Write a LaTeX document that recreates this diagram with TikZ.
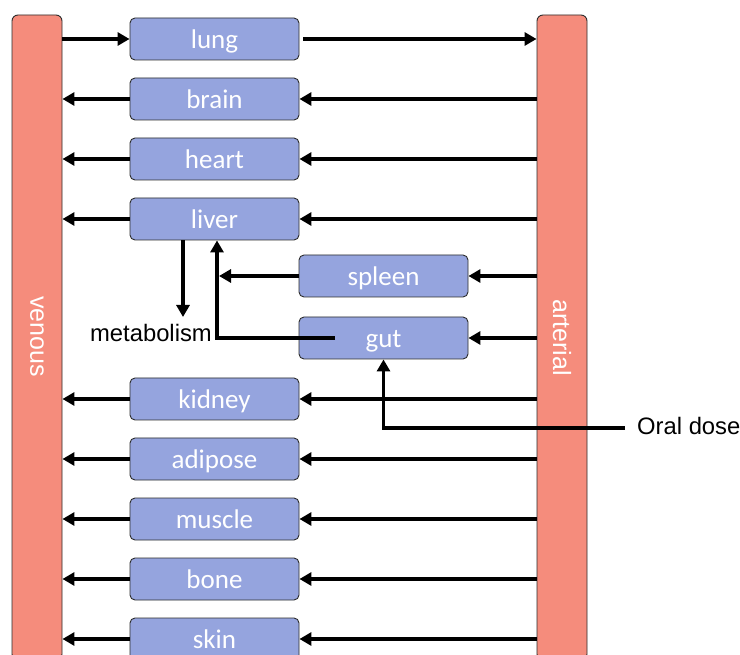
\documentclass[tikz,border=0pt]{standalone}
\usepackage{fontspec}
\newfontfamily\carlito{Carlito}
\newfontfamily\lsans{Liberation Sans}
\usetikzlibrary{arrows.meta}
\definecolor{boxblue}{RGB}{149,164,222}
\definecolor{barsalmon}{RGB}{245,140,124}
\definecolor{edgegray}{RGB}{45,45,45}
\tikzset{
  organ/.style={rectangle, rounded corners=5pt, draw=edgegray, line width=0.9pt,
    fill=boxblue, minimum width=169pt, minimum height=42pt, inner sep=0pt,
    text=white, font=\carlito\fontsize{27}{27}\selectfont,
    text height=24pt, text depth=5pt},
  bar/.style={rectangle, rounded corners=6pt, draw=edgegray, line width=0.9pt,
    fill=barsalmon, minimum width=50pt, minimum height=645pt, inner sep=0pt},
  barlabel/.style={text=white, font=\lsans\fontsize{25}{25}\selectfont, inner sep=0pt, rotate=-90},
  lbl/.style={text=black, font=\lsans\fontsize{23.8}{23.8}\selectfont, inner sep=0pt},
  arr/.style={line width=3.7pt, -{Triangle[length=12pt,width=13pt]}},
  ln/.style={line width=3.7pt}
}
\begin{document}
\begin{tikzpicture}[x=1pt,y=-1pt]
\useasboundingbox (0,0) rectangle (740,655);
\clip (0,0) rectangle (740,655);
\fill[white] (0,0) rectangle (740,655);
% bars
\node[bar] (ven) at (37,337.5) {};
\node[bar] (art) at (562,337.5) {};
\node[barlabel] (venlbl) at (37,336.5) {venous};
\node[barlabel] (artlbl) at (562,337.5) {arterial};
% organs
\node[organ] (lung)    at (214.5,39)  {lung};
\node[organ] (brain)   at (214.5,99)  {brain};
\node[organ] (heart)   at (214.5,159) {heart};
\node[organ] (liver)   at (214.5,219) {liver};
\node[organ] (spleen)  at (383.5,276) {spleen};
\node[organ] (gut)     at (383.5,338) {gut};
\node[organ] (kidney)  at (214.5,399) {kidney};
\node[organ] (adipose) at (214.5,459) {adipose};
\node[organ] (muscle)  at (214.5,519) {muscle};
\node[organ] (bone)    at (214.5,579) {bone};
\node[organ] (skin)    at (214.5,639) {skin};
% labels
\node[lbl, anchor=base east] (metab) at (212,341.5) {metabolism};
\node[lbl, anchor=base west] (oral) at (637,434.3) {Oral dose};
% coordinates
\coordinate (lvout) at ([xshift=-31.5pt]liver.south);
\coordinate (metabin) at (183,317);
\coordinate (lvin) at ([xshift=2.5pt]liver.south);
\coordinate (gutout) at ([xshift=-48.5pt]gut.center);
\coordinate (oralstart) at ([xshift=-12pt]oral.west |- 0,428);
% lung
\draw[arr] (ven.east |- lung) -- (lung.west);
\draw[arr] ([xshift=4pt]lung.east) -- (art.west |- lung);
% arterial -> organs
\foreach \o in {brain,heart,liver,spleen,gut,kidney,adipose,muscle,bone,skin}{
  \draw[arr] (art.west |- \o) -- (\o.east);
}
% organs -> venous
\foreach \o in {brain,heart,liver,kidney,adipose,muscle,bone,skin}{
  \draw[arr] (\o.west) -- (ven.east |- \o);
}
% liver related
\draw[arr] (lvout) -- (metabin);
\draw[arr] (gutout) -| (lvin);
\draw[arr] (spleen.west) -- ([xshift=2pt]spleen.west -| lvin);
% oral dose
\draw[arr] (oralstart) -| (gut.south);
\end{tikzpicture}
\end{document}
